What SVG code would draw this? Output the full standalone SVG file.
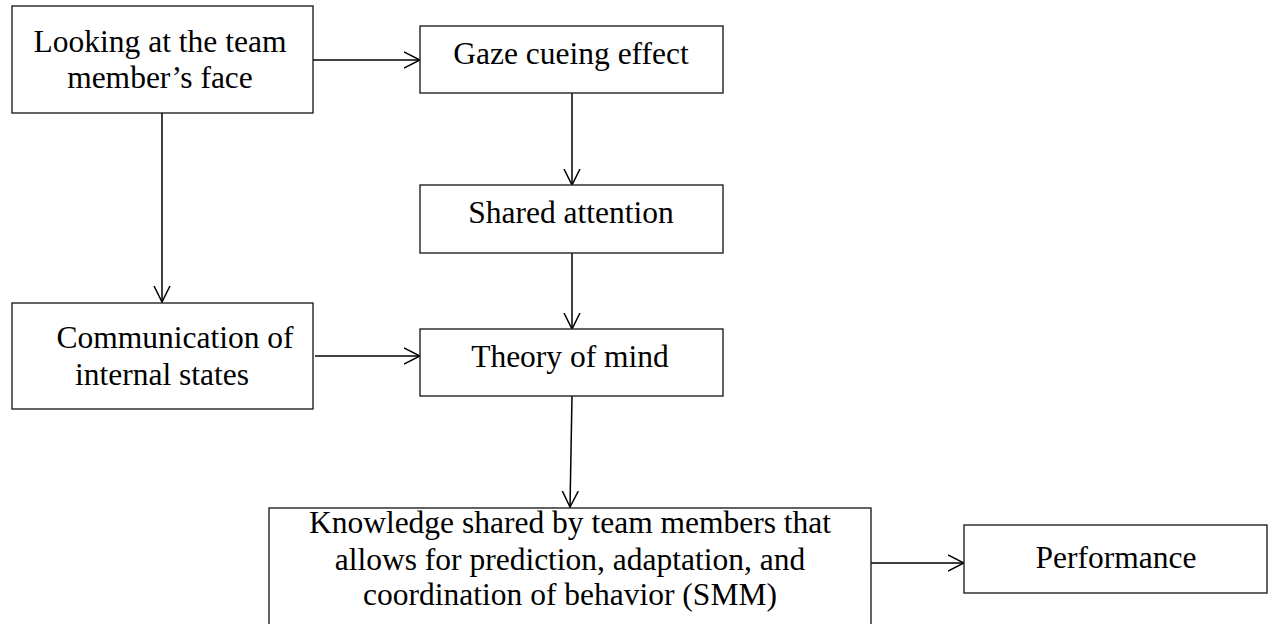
<svg xmlns="http://www.w3.org/2000/svg" width="1268" height="624" viewBox="0 0 1268 624">
<style>
.box{fill:#fff;stroke:#222;stroke-width:1.4}
.t{font-family:"Liberation Serif","Times New Roman",serif;font-size:31.5px;fill:#000;text-anchor:middle}
.c{stroke:#000;stroke-width:1.5;fill:none;marker-end:url(#arr)}
</style>
<defs>
<marker id="arr" viewBox="0 0 17 18" refX="16" refY="9" markerWidth="17" markerHeight="18" markerUnits="userSpaceOnUse" orient="auto">
<path d="M0,1 L16,9 L0,17" fill="none" stroke="#000" stroke-width="1.5"/>
</marker>
</defs>
<rect width="1268" height="624" fill="#fff"/>
<g id="connectors">
<line class="c" x1="313" y1="60" x2="420" y2="60"/>
<line class="c" x1="162" y1="113" x2="162" y2="302"/>
<line class="c" x1="572" y1="93" x2="572" y2="185"/>
<line class="c" x1="572" y1="253" x2="572" y2="329"/>
<line class="c" x1="315" y1="356" x2="420" y2="356"/>
<line class="c" x1="572" y1="396" x2="570" y2="507"/>
<line class="c" x1="871" y1="563" x2="964" y2="563"/>
</g>
<g id="looking">
<rect class="box" x="12" y="6" width="301" height="107"/>
<text class="t" x="160" y="52">Looking at the team</text>
<text class="t" x="160" y="88">member’s face</text>
</g>
<g id="gaze">
<rect class="box" x="420" y="26" width="303" height="67"/>
<text class="t" x="571" y="64">Gaze cueing effect</text>
</g>
<g id="shared">
<rect class="box" x="420" y="185" width="303" height="68"/>
<text class="t" x="571" y="223">Shared attention</text>
</g>
<g id="communication">
<rect class="box" x="12" y="303" width="301" height="106"/>
<text class="t" x="175" y="348">Communication of</text>
<text class="t" x="162" y="385">internal states</text>
</g>
<g id="theory">
<rect class="box" x="420" y="329" width="303" height="67"/>
<text class="t" x="570" y="367">Theory of mind</text>
</g>
<g id="knowledge">
<rect class="box" x="269" y="508" width="602" height="140"/>
<text class="t" x="570" y="533">Knowledge shared by team members that</text>
<text class="t" x="570" y="570">allows for prediction, adaptation, and</text>
<text class="t" x="570" y="605">coordination of behavior (SMM)</text>
</g>
<g id="performance">
<rect class="box" x="964" y="525" width="303" height="68"/>
<text class="t" x="1116" y="568">Performance</text>
</g>
</svg>
